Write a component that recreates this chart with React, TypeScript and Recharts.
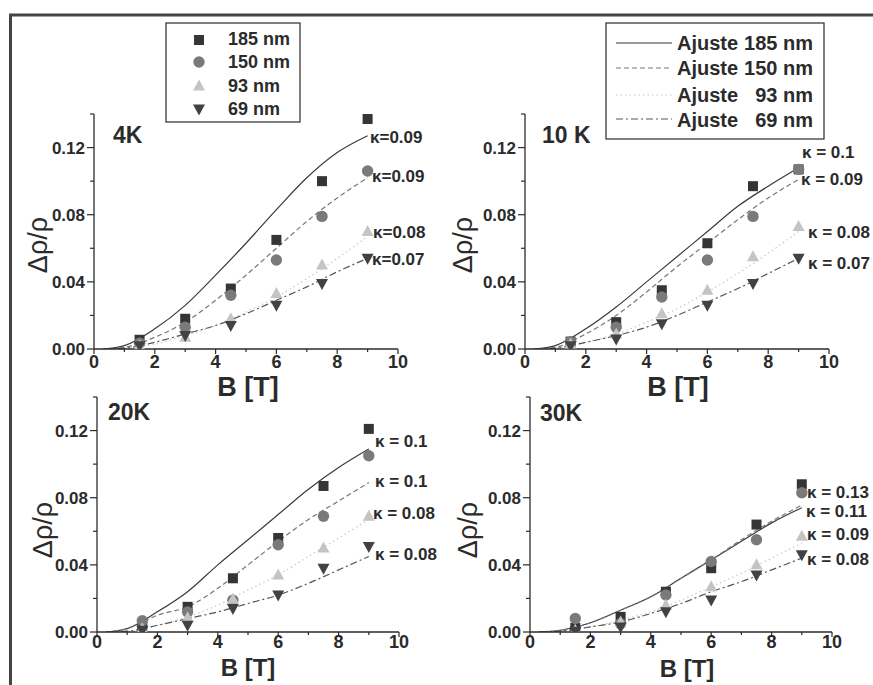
import { ComposedChart, Line, Scatter, XAxis, YAxis } from "recharts";

// measured field values (T) and the field grid of the fit curves
const fieldB = [1.5, 3, 4.5, 6, 7.5, 9];
const fitB = [0.3, 1, 2, 3, 4, 5, 6, 7, 8, 9];

// 4K
const m4K_185 = [0.0055, 0.018, 0.036, 0.065, 0.1, 0.137];
const m4K_150 = [0.0035, 0.013, 0.032, 0.053, 0.079, 0.106];
const m4K_93 = [0.002, 0.007, 0.018, 0.033, 0.05, 0.07];
const m4K_69 = [0.002, 0.008, 0.014, 0.026, 0.039, 0.054];
const f4K_185 = [0, 0.002, 0.012, 0.026, 0.044, 0.063, 0.083, 0.102, 0.117, 0.127];
const f4K_150 = [0, 0.001, 0.007, 0.016, 0.029, 0.044, 0.06, 0.076, 0.09, 0.102];
const f4K_93 = [0, 0.0005, 0.003, 0.008, 0.014, 0.022, 0.031, 0.042, 0.054, 0.067];
const f4K_69 = [0, 0.0005, 0.004, 0.009, 0.014, 0.021, 0.029, 0.037, 0.046, 0.054];

// 10 K
const m10K_185 = [0.0044, 0.016, 0.035, 0.063, 0.097, 0.107];
const m10K_150 = [0.0044, 0.013, 0.031, 0.053, 0.079, 0.107];
const m10K_93 = [0.003, 0.009, 0.021, 0.035, 0.055, 0.073];
const m10K_69 = [0.002, 0.006, 0.015, 0.026, 0.039, 0.054];
const f10K_185 = [0, 0.002, 0.012, 0.025, 0.04, 0.055, 0.07, 0.085, 0.097, 0.108];
const f10K_150 = [0, 0.001, 0.009, 0.02, 0.034, 0.049, 0.063, 0.077, 0.09, 0.101];
const f10K_93 = [0, 0.0005, 0.004, 0.009, 0.016, 0.024, 0.034, 0.045, 0.057, 0.07];
const f10K_69 = [0, 0.0005, 0.004, 0.008, 0.013, 0.02, 0.028, 0.036, 0.045, 0.054];

// 20K
const m20K_185 = [0.003, 0.015, 0.032, 0.056, 0.087, 0.121];
const m20K_150 = [0.0067, 0.012, 0.019, 0.052, 0.069, 0.105];
const m20K_93 = [0.002, 0.0085, 0.0195, 0.034, 0.05, 0.069];
const m20K_69 = [0.001, 0.004, 0.014, 0.022, 0.038, 0.051];
const f20K_185 = [0, 0.002, 0.012, 0.024, 0.04, 0.055, 0.07, 0.085, 0.098, 0.109];
const f20K_150 = [0, 0.002, 0.01, 0.015, 0.026, 0.04, 0.054, 0.067, 0.078, 0.089];
const f20K_93 = [0, 0.0005, 0.004, 0.009, 0.016, 0.025, 0.034, 0.045, 0.056, 0.067];
const f20K_69 = [0, 0.0005, 0.004, 0.008, 0.012, 0.017, 0.022, 0.029, 0.037, 0.045];

// 30K
const m30K_185 = [0.0024, 0.009, 0.024, 0.038, 0.064, 0.088];
const m30K_150 = [0.008, 0.005, 0.022, 0.042, 0.055, 0.083];
const m30K_93 = [0.001, 0.006, 0.016, 0.027, 0.04, 0.057];
const m30K_69 = [0.0005, 0.003, 0.012, 0.019, 0.034, 0.046];
const f30K_185 = [0, 0.001, 0.0055, 0.013, 0.021, 0.032, 0.043, 0.054, 0.065, 0.074];
const f30K_150 = [0, 0.001, 0.0055, 0.013, 0.021, 0.032, 0.043, 0.055, 0.066, 0.0755];
const f30K_93 = [0, 0.0005, 0.003, 0.007, 0.012, 0.019, 0.027, 0.035, 0.044, 0.053];
const f30K_69 = [0, 0.0005, 0.003, 0.006, 0.011, 0.017, 0.024, 0.03, 0.037, 0.044];

const panelTitles = ["4K", "10 K", "20K", "30K"];
const kappa4K = ["κ=0.09", "κ=0.09", "κ=0.08", "κ=0.07"];
const kappa10K = ["κ = 0.1", "κ = 0.09", "κ = 0.08", "κ = 0.07"];
const kappa20K = ["κ = 0.1", "κ = 0.1", "κ = 0.08", "κ = 0.08"];
const kappa30K = ["κ = 0.13", "κ = 0.11", "κ = 0.09", "κ = 0.08"];
const sampleNames = ["185 nm", "150 nm", "93 nm", "69 nm"];
const fitNames = ["185 nm", "150 nm", "93 nm", "69 nm"];

const xTicks = [0, 1, 2, 3, 4, 5, 6, 7, 8, 9, 10];
const yTicks = [0, 0.02, 0.04, 0.06, 0.08, 0.1, 0.12, 0.14];

const pts = (xs: number[], ys: number[]) => xs.map((x, i) => ({ x, y: ys[i] }));

const FONT = "'Liberation Sans', Arial, sans-serif";
const INK = "#2b2b2b";
const C185 = "#353535";
const C150 = "#7a7a7a";
const C93 = "#c4c4c4";
const C69 = "#424242";
const LINE_STYLES = [
  { stroke: "#3a3a3a", dash: undefined as string | undefined },
  { stroke: "#777", dash: "5 3" },
  { stroke: "#c8c8c8", dash: "1.5 3" },
  { stroke: "#555", dash: "7 3 2 3" },
];

const Square = (p: any) => <rect x={p.cx - 5} y={p.cy - 5} width={10} height={10} fill={C185} />;
const Dot = (p: any) => <circle cx={p.cx} cy={p.cy} r={5.7} fill={C150} />;
const TriUp = (p: any) => (
  <polygon points={`${p.cx},${p.cy - 6.5} ${p.cx + 6},${p.cy + 4.5} ${p.cx - 6},${p.cy + 4.5}`} fill={C93} />
);
const TriDown = (p: any) => (
  <polygon points={`${p.cx},${p.cy + 6.5} ${p.cx + 6},${p.cy - 4.5} ${p.cx - 6},${p.cy - 4.5}`} fill={C69} />
);

const PL = 80; // plot left inside each chart
const PT = 20; // plot top inside each chart

function Panel({ left, top, w, h, meas, fits, tickGap }: any) {
  const plotBottom = PT + h;
  const YTick = (props: any) => {
    const v = props.payload.value;
    const major = Math.round(v * 100) % 4 === 0;
    const yy = props.y;
    return (
      <g>
        <line x1={PL - (major ? 7 : 4)} x2={PL} y1={yy} y2={yy} stroke={INK} strokeWidth={1.2} />
        {major && (
          <text x={PL - 9} y={yy} dy="0.36em" textAnchor="end" fontSize={17} fontWeight="bold" fill={INK} fontFamily={FONT}>
            {v.toFixed(2)}
          </text>
        )}
      </g>
    );
  };
  const XTick = (props: any) => {
    const v = props.payload.value;
    const major = v % 2 === 0;
    const xx = props.x;
    return (
      <g>
        <line x1={xx} x2={xx} y1={plotBottom} y2={plotBottom + (major ? 5 : 3)} stroke={INK} strokeWidth={1.2} />
        {major && (
          <text x={xx} y={plotBottom + tickGap} dy="0.8em" textAnchor="middle" fontSize={18} fontWeight="bold" fill={INK} fontFamily={FONT}>
            {v}
          </text>
        )}
      </g>
    );
  };
  const shapes = [Square, Dot, TriUp, TriDown];
  return (
    <div style={{ position: "absolute", left: left - PL, top: top - PT }}>
      <ComposedChart width={w + 100} height={h + 60} margin={{ top: PT, right: 20, left: 20, bottom: 10 }}>
        <XAxis
          type="number"
          dataKey="x"
          domain={[0, 10]}
          ticks={xTicks}
          height={30}
          axisLine={{ stroke: INK, strokeWidth: 1.3 }}
          tickLine={false}
          tick={XTick}
          interval={0}
        />
        <YAxis
          type="number"
          dataKey="y"
          domain={[0, 0.14]}
          ticks={yTicks}
          width={60}
          allowDataOverflow
          axisLine={{ stroke: INK, strokeWidth: 1.3 }}
          tickLine={false}
          tick={YTick}
          interval={0}
        />
        {fits.map((f: number[], i: number) => (
          <Line
            key={"f" + i}
            data={pts(fitB, f)}
            dataKey="y"
            type="monotone"
            dot={false}
            stroke={LINE_STYLES[i].stroke}
            strokeDasharray={LINE_STYLES[i].dash}
            strokeWidth={1.2}
            isAnimationActive={false}
          />
        ))}
        {meas.map((m: number[], i: number) => (
          <Scatter key={"m" + i} data={pts(fieldB, m)} dataKey="y" shape={shapes[i]} isAnimationActive={false} />
        ))}
      </ComposedChart>
    </div>
  );
}

const txt = { fontFamily: FONT, fill: INK, fontWeight: "bold" as const };

export default function App() {
  const panels = [
    { left: 94, top: 114, w: 304, h: 235, tickGap: 5, meas: [m4K_185, m4K_150, m4K_93, m4K_69], fits: [f4K_185, f4K_150, f4K_93, f4K_69] },
    { left: 525, top: 114, w: 304, h: 235, tickGap: 5, meas: [m10K_185, m10K_150, m10K_93, m10K_69], fits: [f10K_185, f10K_150, f10K_93, f10K_69] },
    { left: 97, top: 397, w: 302, h: 235, tickGap: 2, meas: [m20K_185, m20K_150, m20K_93, m20K_69], fits: [f20K_185, f20K_150, f20K_93, f20K_69] },
    { left: 530, top: 397, w: 302, h: 235, tickGap: 2, meas: [m30K_185, m30K_150, m30K_93, m30K_69], fits: [f30K_185, f30K_150, f30K_93, f30K_69] },
  ];
  const titlePos = [[113, 143], [542, 143], [108, 420], [540, 421]];
  const yLabelPos = [[38, 245], [463, 245], [43, 530], [468, 530]];
  const xLabelPos = [[248, 387], [678, 387], [248, 668], [687, 669]];
  const kappaSets = [kappa4K, kappa10K, kappa20K, kappa30K];
  const kappaPos = [
    [[370, 143], [372, 182], [373, 238], [372, 265]],
    [[802, 158], [801, 185], [808, 238], [808, 269]],
    [[375, 447], [375, 487], [373, 519], [375, 560]],
    [[807, 498], [806, 517], [807, 540], [807, 565]],
  ];
  const legMarkerY = [40, 62, 86, 109];
  const legTextY = [45, 68, 92, 115];
  const fitLineY = [43, 68, 95, 119];
  const fitTextY = [50, 75, 102, 127];
  const markerShapes = [Square, Dot, TriUp, TriDown];

  return (
    <div style={{ position: "absolute", left: 0, top: 0, width: 873, height: 685, background: "#fff", overflow: "hidden" }}>
      {panels.map((p, i) => (
        <Panel key={i} {...p} />
      ))}
      <svg width={873} height={685} style={{ position: "absolute", left: 0, top: 0, pointerEvents: "none" }}>
        {/* scanned frame */}
        <line x1={10.5} y1={14} x2={10.5} y2={685} stroke="#444" strokeWidth={3} />
        <line x1={9} y1={15} x2={873} y2={15} stroke="#444" strokeWidth={3} />

        {panelTitles.map((t, i) => (
          <text key={t} x={titlePos[i][0]} y={titlePos[i][1]} fontSize={23} {...txt}>
            {t}
          </text>
        ))}
        {yLabelPos.map(([x, y], i) => (
          <text key={"yl" + i} x={x} y={y} transform={`rotate(-90 ${x} ${y})`} textAnchor="middle" dy="0.35em" fontSize={27} fontFamily={FONT} fill={INK}>
            Δρ/ρ
          </text>
        ))}
        {xLabelPos.map(([x, y], i) => (
          <text key={"xl" + i} x={x} y={y} textAnchor="middle" dy="0.35em" fontSize={i < 2 ? 27 : 24} {...txt}>
            B [T]
          </text>
        ))}
        {kappaSets.map((set, i) =>
          set.map((k, j) => (
            <text key={"k" + i + j} x={kappaPos[i][j][0]} y={kappaPos[i][j][1]} fontSize={17} {...txt}>
              {k}
            </text>
          ))
        )}

        {/* marker legend */}
        <rect x={166} y={23} width={134} height={99} fill="#fff" stroke={INK} strokeWidth={1.2} />
        {sampleNames.map((n, i) => {
          const S = markerShapes[i];
          return (
            <g key={n}>
              <S cx={199} cy={legMarkerY[i]} />
              <text x={228} y={legTextY[i]} fontSize={18} {...txt}>
                {n}
              </text>
            </g>
          );
        })}

        {/* fit legend */}
        <rect x={606} y={23} width={218} height={116} fill="#fff" stroke={INK} strokeWidth={1.2} />
        {fitNames.map((n, i) => (
          <g key={"fl" + i}>
            <line x1={616} x2={672} y1={fitLineY[i]} y2={fitLineY[i]} stroke={LINE_STYLES[i].stroke} strokeDasharray={LINE_STYLES[i].dash} strokeWidth={1.2} />
            <text x={677} y={fitTextY[i]} fontSize={20} {...txt}>
              Ajuste
            </text>
            <text x={813} y={fitTextY[i]} textAnchor="end" fontSize={20} {...txt}>
              {n}
            </text>
          </g>
        ))}
      </svg>
    </div>
  );
}
